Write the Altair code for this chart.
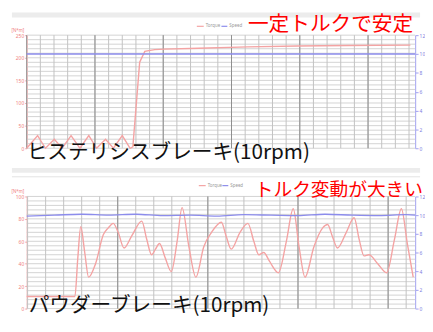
import altair as alt
import pandas as pd

CJK = "Noto Sans CJK JP"

# ---------------- data: hysteresis brake (top) ----------------
top_time = [0, 0.32, 0.55, 0.81, 1.04, 1.30, 1.56, 1.82, 2.05, 2.31, 2.54, 2.80,
            3.03, 3.11, 3.31, 3.46, 3.75, 4.03, 5.04, 6.48, 7.93, 9.37, 11.24]
top_torque = [0, 28, 0, 20, 0, 28, 0, 28, 0, 20, 0, 28,
              0, 3, 190, 214, 218, 219, 221, 224, 226, 227, 228]
top_speed_time = [0, 3, 6, 9, 11.38]
top_speed = [10, 10, 10, 10, 10]

# ---------------- data: powder brake (bottom) ----------------
bottom_time = [-20.10, -14.75, -14.43, -14.10, -13.66, -13.23, -12.46, -11.59, -11.04,
               -10.50, -9.95, -9.30, -8.43, -7.33, -6.79, -6.24, -5.81, -5.37, -4.72,
               -4.06, -3.41, -2.86, -2.10, -1.33, -0.46, 0.41, 1.50, 2.05, 2.59, 3.57,
               4.44, 5.10, 5.65, 6.20, 6.85, 7.83, 8.71, 9.47, 10.12, 10.78, 11.76,
               12.74, 13.29, 13.83, 14.38, 15.36, 16.23, 16.78, 17.32, 17.87, 18.85,
               19.83, 20.71, 21.47, 22.13, 22.78]
bottom_torque = [10.8, 10.8, 45, 73, 50, 28, 40, 66, 72,
                 76, 68, 54, 65, 78, 62, 48, 53, 58, 45,
                 33, 60, 90, 55, 28, 55, 68, 77, 64, 53, 68,
                 76, 60, 48, 50, 42, 32, 60, 89, 55, 28, 55,
                 72, 75, 64, 54, 68, 81, 62, 47, 48, 40,
                 32, 62, 89, 58, 28]
bottom_speed_time = [-20.1, -17, -14, -11, -8, -5, -2, 1, 4, 7, 10, 13, 16, 19, 22, 23.0]
bottom_speed = [9.9, 10.0, 10.1, 10.0, 10.1, 9.95, 10.0, 9.9, 10.05, 10.0, 9.95, 10.1, 10.0, 9.95, 10.05, 10.0]

TORQUE_C = "#f4a3a3"
SPEED_C = "#8c8cec"


def text_layer(txt, x, y, size, color, font=CJK):
    return alt.Chart(pd.DataFrame({"label": [txt]})).mark_text(
        align="left", baseline="middle", fontSize=size, color=color, font=font
    ).encode(text="label:N", x=alt.value(x), y=alt.value(y))


def rect_layer(x, x2, y, y2, color):
    return alt.Chart(pd.DataFrame({"a": [0]})).mark_rect(color=color).encode(
        x=alt.value(x), x2=alt.value(x2), y=alt.value(y), y2=alt.value(y2))


def hrule(x, x2, y, color, w=1.0):
    return alt.Chart(pd.DataFrame({"a": [0]})).mark_rule(color=color, strokeWidth=w).encode(
        x=alt.value(x), x2=alt.value(x2), y=alt.value(y))


def panel(times, torque, s_times, speed, x_domain, x_minor, x_major, x_labels,
          y_max, y_labels, y_grid, height, decos, x_title, interp):
    xs = alt.Scale(domain=x_domain, nice=False, zero=False)
    ys_t = alt.Scale(domain=[0, y_max], nice=False, zero=False)
    ys_s = alt.Scale(domain=[0, 12], nice=False, zero=False)

    hgrid = alt.Chart(pd.DataFrame({"v": y_grid})).mark_rule(
        color="#d3d3d3", strokeWidth=1).encode(y=alt.Y("v:Q", scale=ys_t, axis=None))
    vminor = alt.Chart(pd.DataFrame({"t": x_minor})).mark_rule(
        color="#c2c2c2", strokeWidth=1).encode(x=alt.X("t:Q", scale=xs, axis=None))
    vmajor = alt.Chart(pd.DataFrame({"t": x_major})).mark_rule(
        color="#8e8e8e", strokeWidth=1).encode(x=alt.X("t:Q", scale=xs, axis=None))

    axis_kw = dict(values=x_labels, grid=False, ticks=False, domain=False,
                   labelFontSize=5, labelColor="#999999", labelPadding=2,
                   labelFont="Noto Sans", format="d")
    if x_title:
        axis_kw.update(title=x_title, titleFontSize=4.5, titleColor="#999999",
                       titleFontWeight="normal", titlePadding=1, titleFont="Noto Sans")
    else:
        axis_kw.update(title=None)
    x_axis = alt.Axis(**axis_kw)
    left_axis = alt.Axis(values=y_labels, grid=False, domainColor=TORQUE_C,
                         tickColor=TORQUE_C, tickSize=2, labelColor="#f08080",
                         labelFontSize=5, labelPadding=1, labelFont="Noto Sans",
                         title="[N*m]", titleAngle=0, titleX=-3, titleY=-5,
                         titleAlign="right", titleBaseline="middle",
                         titleFontSize=4.5, titleColor="#f08080",
                         titleFontWeight="normal", titleFont="Noto Sans")
    right_axis = alt.Axis(orient="right", values=[0, 2, 4, 6, 8, 10, 12], grid=False,
                          domainColor="#a0a0f0", tickColor="#a0a0f0", tickSize=3,
                          labelColor="#8080e0", labelFontSize=5, labelPadding=1,
                          labelFont="Noto Sans", title=None)

    torque_line = alt.Chart(pd.DataFrame({"time": times, "torque": torque})).mark_line(
        color=TORQUE_C, strokeWidth=1.4, interpolate=interp).encode(
        x=alt.X("time:Q", scale=xs, axis=x_axis),
        y=alt.Y("torque:Q", scale=ys_t, axis=left_axis))
    speed_line = alt.Chart(pd.DataFrame({"time": s_times, "speed": speed})).mark_line(
        color=SPEED_C, strokeWidth=1.4, interpolate="monotone").encode(
        x=alt.X("time:Q", scale=xs, axis=None),
        y=alt.Y("speed:Q", scale=ys_s, axis=right_axis))

    layers = [hgrid, vminor, vmajor, torque_line, speed_line] + decos
    return alt.layer(*layers).resolve_scale(y="independent").properties(
        width=395, height=height)


top_decos = [
    rect_layer(-15, 400, -23, -18, "#ececec"),
    hrule(173, 180, -9, TORQUE_C, 1.2),
    text_layer("Torque", 182, -9, 4.5, "#999999", "Noto Sans"),
    hrule(198, 204, -9, SPEED_C, 1.2),
    text_layer("Speed", 206, -9, 4.5, "#999999", "Noto Sans"),
    text_layer("一定トルクで安定", 225, -10, 21, "#ff0000"),
    text_layer("ヒステリシスブレーキ(10rpm)", 0, 120, 21, "#111111"),
    rect_layer(-15, 400, 135, 140, "#ececec"),
]

bottom_decos = [
    hrule(-15, 400, -20, "#e2e2e2", 1.0),
    hrule(175, 182, -11, TORQUE_C, 1.2),
    text_layer("Torque", 184, -11, 4.5, "#999999", "Noto Sans"),
    hrule(199, 205, -11, SPEED_C, 1.2),
    text_layer("Speed", 207, -11, 4.5, "#999999", "Noto Sans"),
    text_layer("トルク変動が大きい", 232, -6, 19, "#ff0000"),
    text_layer("パウダーブレーキ(10rpm)", 2, 112, 21, "#111111"),
]

top_minor = [round(0.4 * i, 2) for i in range(1, 29)]
top_major = [0, 2, 4, 6, 8, 10]
bottom_minor = list(range(-20, 23, 2))
bottom_major = [-10, 0, 10, 20]

top = panel(top_time, top_torque, top_speed_time, top_speed, [0, 11.38],
            top_minor, top_major, [0, 10], 250, [0, 50, 100, 150, 200, 250],
            list(range(0, 251, 10)), 115, top_decos, "[Time]", "linear")
bottom = panel(bottom_time, bottom_torque, bottom_speed_time, bottom_speed, [-20.1, 23.0],
               bottom_minor, bottom_major, [10, 20], 100, [0, 20, 40, 60, 80, 100],
               list(range(0, 101, 4)), 114, bottom_decos, None, "monotone")

chart = alt.vconcat(top, bottom, spacing=3).properties(
    padding={"left": 2, "top": 2, "right": 0, "bottom": 0}
).configure_view(stroke=None)

chart.save("out.html", embed_options={"renderer": "svg", "actions": False})
